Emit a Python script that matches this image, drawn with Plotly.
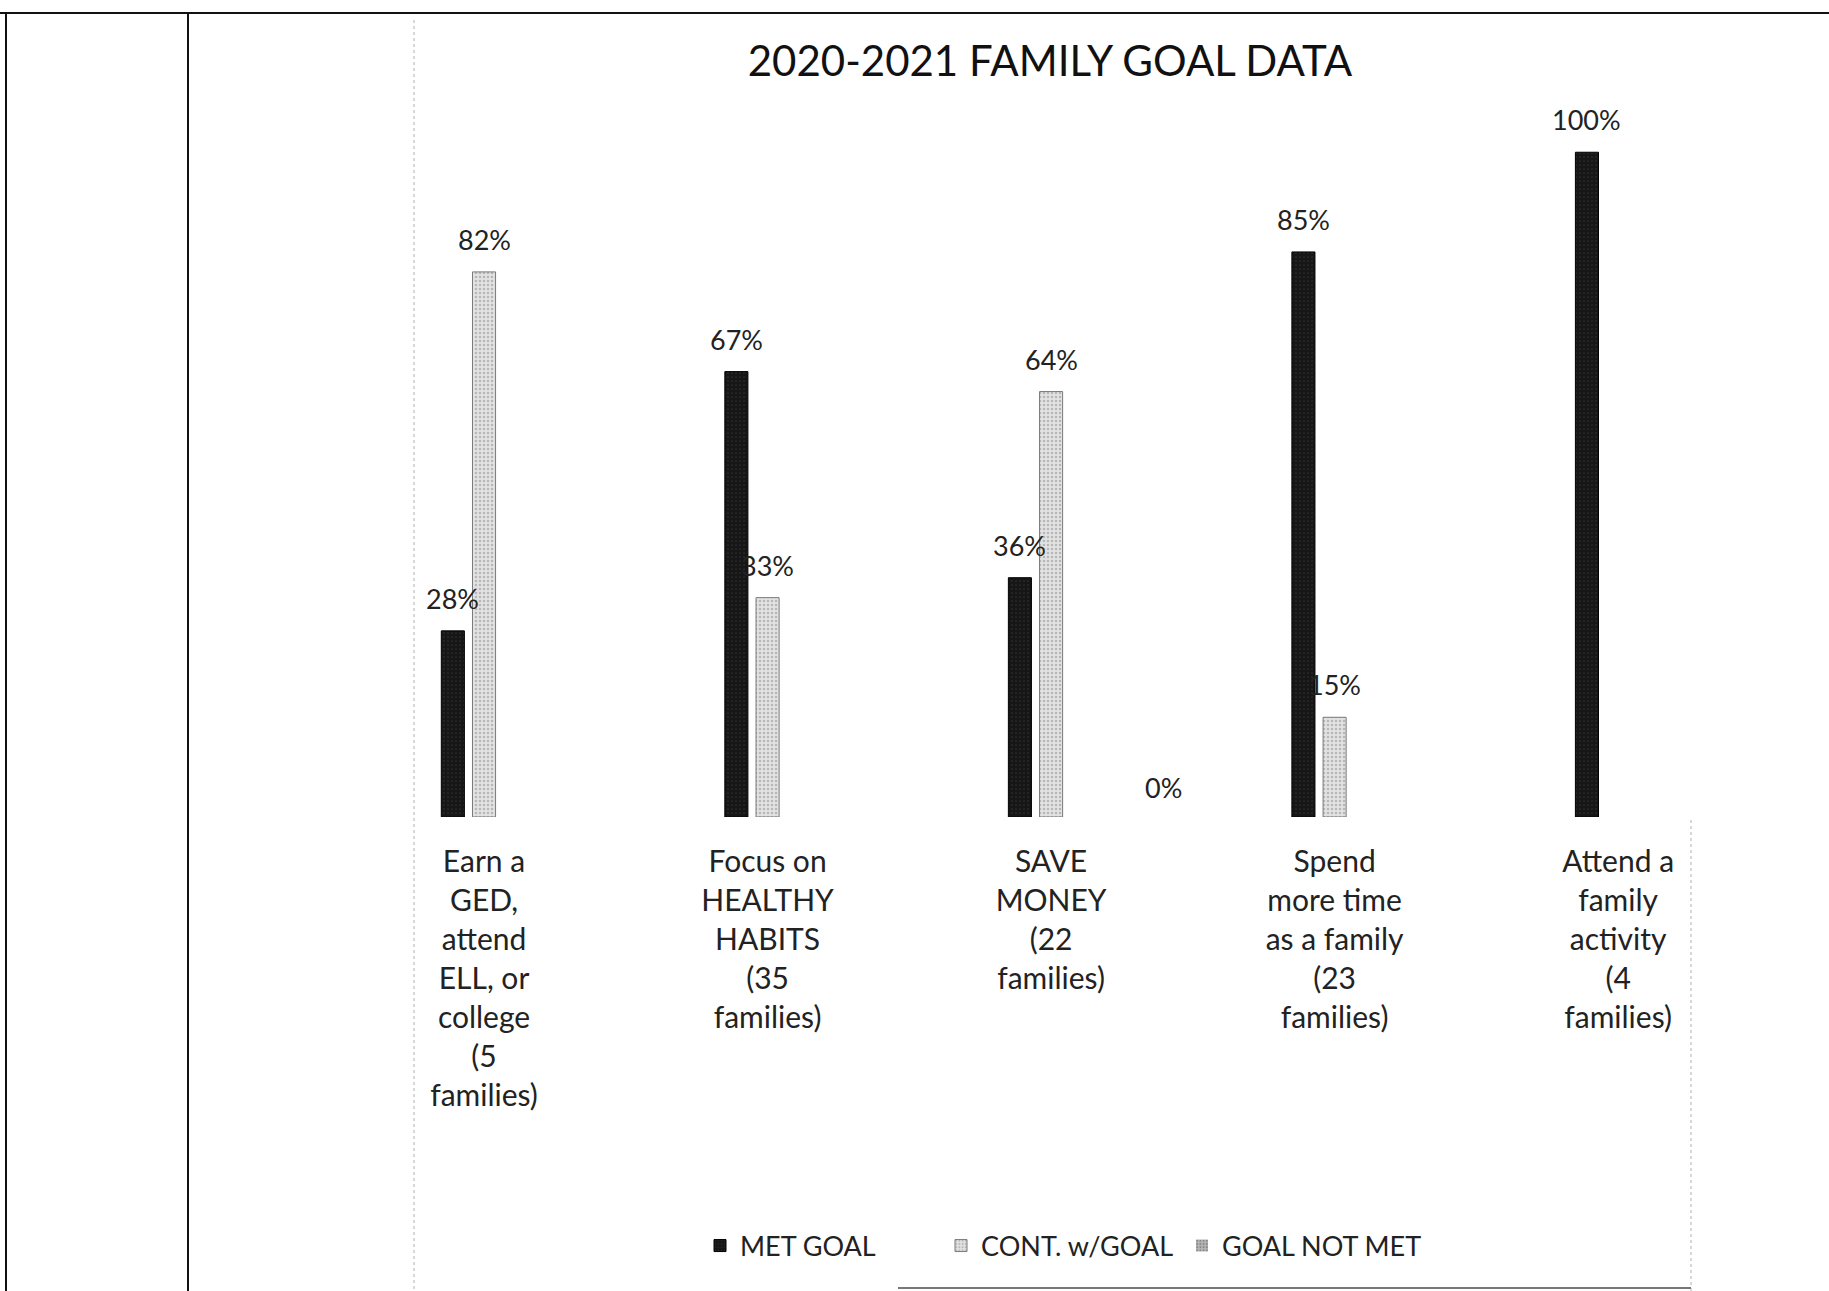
import plotly.graph_objects as go

categories = [
    "Earn a<br>GED,<br>attend<br>ELL, or<br>college<br>(5<br>families)",
    "Focus on<br>HEALTHY<br>HABITS<br>(35<br>families)",
    "SAVE<br>MONEY<br>(22<br>families)",
    "Spend<br>more time<br>as a family<br>(23<br>families)",
    "Attend a<br>family<br>activity<br>(4<br>families)",
]
met_goal = [0.28, 0.67, 0.36, 0.85, 1.00]
cont_goal = [0.82, 0.33, 0.64, 0.15, None]
not_met = [None, None, 0.0, None, None]
series_names = ["MET GOAL", "CONT. w/GOAL", "GOAL NOT MET"]

W, H = 1829, 1291
L, R, T, B = 414, 1691, 119, 817
FONT = "Lato, 'Open Sans', sans-serif"
LABEL = 27
BARGAP, GROUPGAP = 0.67, 0.26
X_RANGE = [-0.247, 4.257]


def fmt(v):
    return f"{round(v*100)}%"


styles = [
    dict(color="#161616", line=dict(color="#000000", width=1),
         pattern=dict(shape=".", fgcolor="#4a4a4a", bgcolor="#161616", size=4, solidity=0.15)),
    dict(color="#d9d9d9", line=dict(color="#7a7a7a", width=1),
         pattern=dict(shape=".", fgcolor="#8a8a8a", bgcolor="#e2e2e2", size=4, solidity=0.3)),
    dict(color="#a8a8a8", line=dict(color="#5a5a5a", width=0),
         pattern=dict(shape=".", fgcolor="#5a5a5a", bgcolor="#b5b5b5", size=4, solidity=0.3)),
]
all_series = [met_goal, cont_goal, not_met]

fig = go.Figure()
for name, vals, st in zip(series_names, all_series, styles):
    fig.add_trace(go.Bar(x=categories, y=vals, name=name, marker=st, cliponaxis=False))

# data labels, placed above each bar of its series
cat_px = (R - L) / (X_RANGE[1] - X_RANGE[0])
slot_px = (1 - BARGAP) * cat_px / 3
for si, vals in enumerate(all_series):
    for c, v in zip(categories, vals):
        if v is None:
            continue
        if si == 2:
            # the lone "0%" label of GOAL NOT MET sits off to the right in the original
            fig.add_annotation(x=c, y=v, text=fmt(v), showarrow=False,
                               xshift=112, yshift=30, font=dict(size=LABEL, color="#222", family=FONT))
        else:
            fig.add_annotation(x=c, y=v, text=fmt(v), showarrow=False, yanchor="bottom",
                               xshift=(si - 1) * slot_px, yshift=14,
                               font=dict(size=LABEL, color="#222", family=FONT))


def px2paper_x(px):
    return (px - L) / (R - L)


def px2paper_y(py):
    return (B - py) / (B - T)


shapes = [
    # page frame lines
    dict(type="line", xref="paper", yref="paper", x0=px2paper_x(0), x1=px2paper_x(W),
         y0=px2paper_y(13), y1=px2paper_y(13), line=dict(color="#111", width=2)),
    dict(type="line", xref="paper", yref="paper", x0=px2paper_x(6), x1=px2paper_x(6),
         y0=px2paper_y(13), y1=px2paper_y(H), line=dict(color="#111", width=2)),
    dict(type="line", xref="paper", yref="paper", x0=px2paper_x(188), x1=px2paper_x(188),
         y0=px2paper_y(13), y1=px2paper_y(H), line=dict(color="#111", width=2)),
    # faint chart border from scan
    dict(type="line", xref="paper", yref="paper", x0=px2paper_x(414), x1=px2paper_x(414),
         y0=px2paper_y(20), y1=px2paper_y(H), line=dict(color="#b0b0b0", width=1, dash="dot")),
    dict(type="line", xref="paper", yref="paper", x0=px2paper_x(1691), x1=px2paper_x(1691),
         y0=px2paper_y(820), y1=px2paper_y(H), line=dict(color="#b0b0b0", width=1, dash="dot")),
    dict(type="line", xref="paper", yref="paper", x0=px2paper_x(898), x1=px2paper_x(1691),
         y0=px2paper_y(1288), y1=px2paper_y(1288), line=dict(color="#777", width=2)),
]

fig.update_layout(
    width=W, height=H,
    margin=dict(l=L, r=W - R, t=T, b=H - B, pad=0),
    paper_bgcolor="white", plot_bgcolor="white",
    font=dict(family=FONT, size=LABEL, color="#222"),
    title=dict(text="2020-2021 FAMILY GOAL DATA", x=1050 / W, xanchor="center",
               y=1 - 61 / H, yanchor="middle",
               font=dict(size=42, color="#111", family=FONT)),
    barmode="group", bargap=BARGAP, bargroupgap=GROUPGAP,
    xaxis=dict(range=X_RANGE, showline=False, showgrid=False, ticks="",
               tickfont=dict(size=30, color="#222"), zeroline=False, ticklabelstandoff=24),
    yaxis=dict(range=[0, 1.05], visible=False, showgrid=False, zeroline=False),
    legend=dict(orientation="h", x=700 / W, xanchor="left", xref="container",
                y=1 - 1246 / H, yanchor="middle", yref="container",
                font=dict(size=27, color="#222"), itemwidth=30, traceorder="normal",
                entrywidth=196, entrywidthmode="pixels"),
    shapes=shapes,
    showlegend=True,
)

fig.write_html("out.html", post_script="document.body.style.margin='0';",
               config={"displayModeBar": False})
